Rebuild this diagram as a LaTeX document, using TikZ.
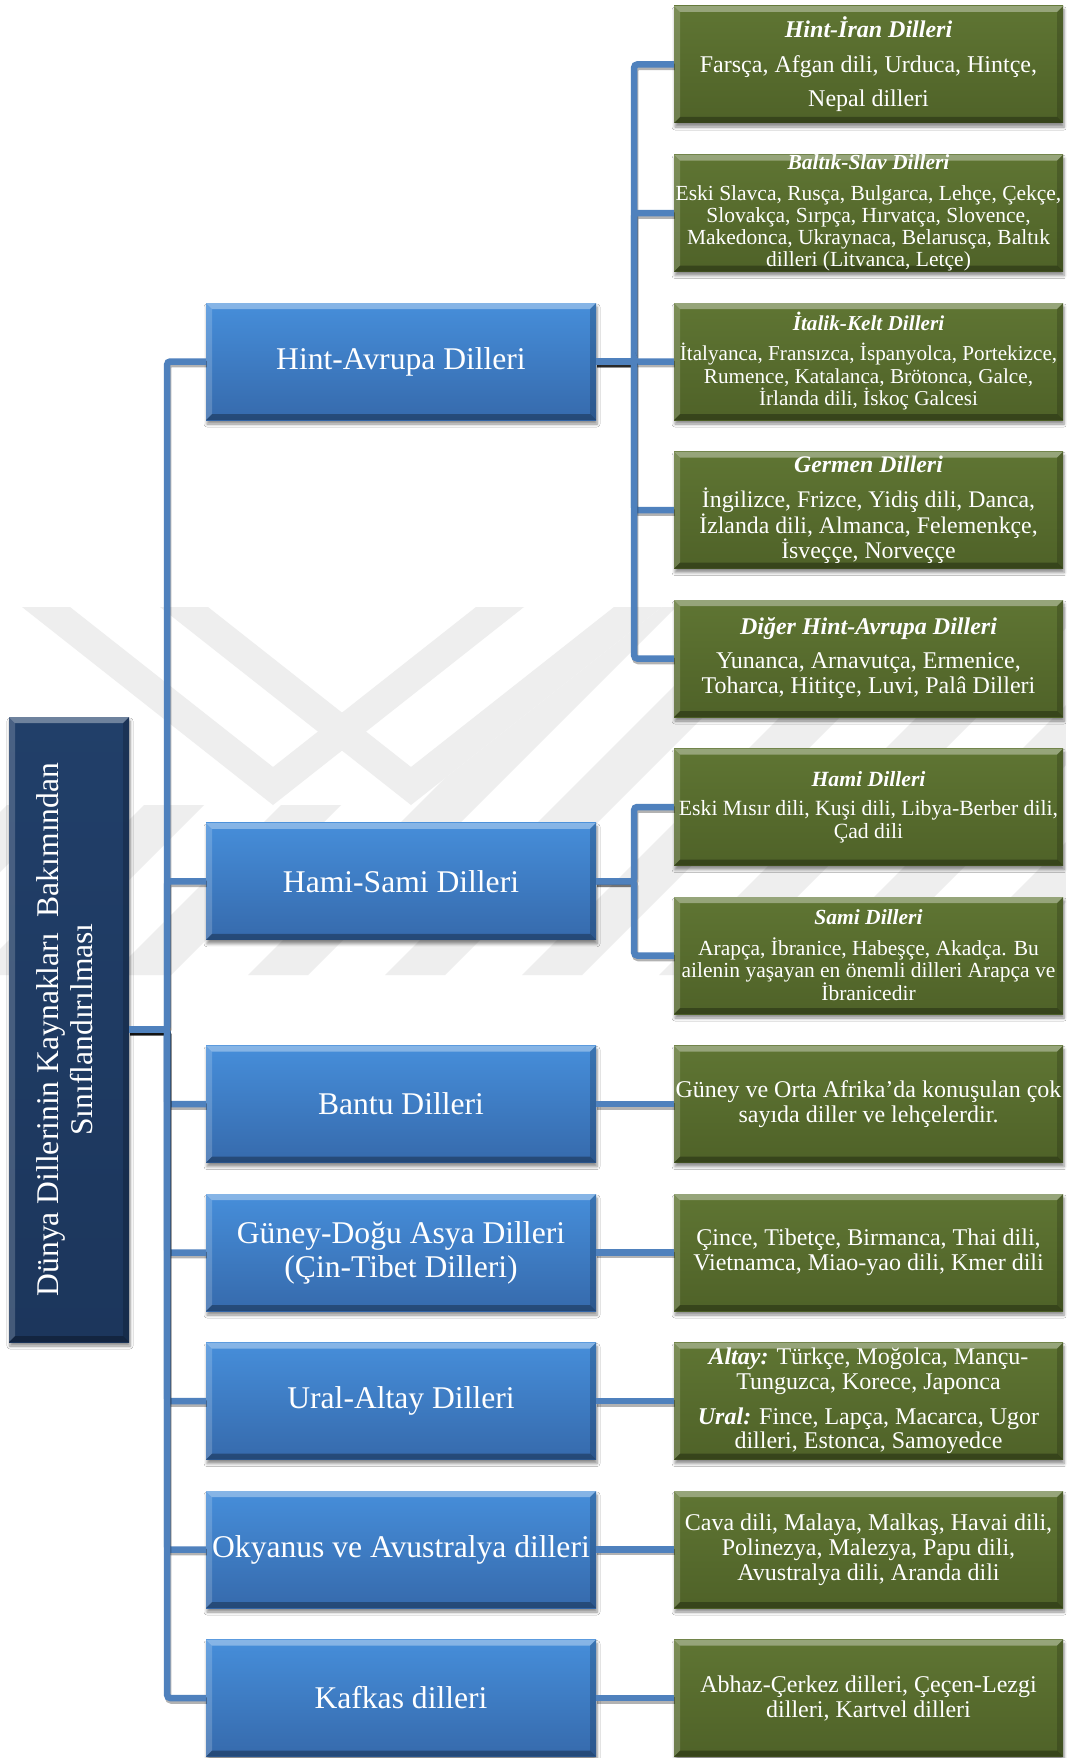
\documentclass[tikz,border=0pt]{standalone}
\usepackage{fontspec}
\setmainfont{Liberation Serif}
\usetikzlibrary{shadows.blur,calc}

\definecolor{connC}{RGB}{79,129,189}
\definecolor{blueT}{RGB}{70,142,218}
\definecolor{blueB}{RGB}{54,106,172}
\definecolor{greenT}{RGB}{95,117,51}
\definecolor{greenB}{RGB}{79,98,40}
\definecolor{navyT}{RGB}{33,63,105}
\definecolor{navyB}{RGB}{28,54,92}
\definecolor{wmC}{RGB}{238,238,238}

\newcommand\hdg[1]{\textbf{\textit{#1}}}

\tikzset{
  bevel/.style={path picture={
    \coordinate (bnw) at (path picture bounding box.north west);
    \coordinate (bne) at (path picture bounding box.north east);
    \coordinate (bsw) at (path picture bounding box.south west);
    \coordinate (bse) at (path picture bounding box.south east);
    \fill[white,opacity=.35] (bnw) -- (bne) -- ([xshift=-6pt,yshift=-6pt]bne) -- ([xshift=6pt,yshift=-6pt]bnw) -- cycle;
    \fill[white,opacity=.18] (bnw) -- ([xshift=6pt,yshift=-6pt]bnw) -- ([xshift=6pt,yshift=6pt]bsw) -- (bsw) -- cycle;
    \fill[black,opacity=.30] (bsw) -- ([xshift=6pt,yshift=6pt]bsw) -- ([xshift=-6pt,yshift=6pt]bse) -- (bse) -- cycle;
    \fill[black,opacity=.18] (bne) -- ([xshift=-6pt,yshift=-6pt]bne) -- ([xshift=-6pt,yshift=6pt]bse) -- (bse) -- cycle;
  }},
  boxbase/.style={inner sep=0pt, align=center, text=white, bevel,
    blur shadow={shadow xshift=1pt, shadow yshift=-4pt, shadow blur radius=3pt, shadow blur steps=5, shadow opacity=45}},
  bluebox/.style={boxbase, minimum width=390pt, minimum height=117pt,
    top color=blueT, bottom color=blueB, font=\fontsize{31.6}{34}\selectfont},
  greenbox/.style={boxbase, minimum width=389pt, minimum height=117pt,
    top color=greenT, bottom color=greenB},
  rootbox/.style={boxbase, minimum width=120pt, minimum height=625pt,
    top color=navyT, bottom color=navyB, font=\fontsize{31.6}{34}\selectfont},
  conn/.style={draw=connC, line width=6.5pt, rounded corners=3pt,
    preaction={draw=black, opacity=0.3, line width=6.5pt, transform canvas={xshift=1pt,yshift=-2.5pt}}},
}

\begin{document}
\begin{tikzpicture}[x=1pt,y=-1pt]
\useasboundingbox (0,0) rectangle (1066,1758);
\fill[white] (0,0) rectangle (1066,1758);

% watermark
\begin{scope}
  \clip (0,975) -- (1066,975) -- (1066,607) -- (662,607) -- (411,805) -- (0,805) -- cycle;
  \foreach \x in {-300,-163,...,1066}
    \fill[wmC] (\x,975) -- ++(60,0) -- ++(368,-368) -- ++(-60,0) -- cycle;
\end{scope}
\fill[wmC] (22,607) -- (70,607) -- (273,767) -- (476,607) -- (524,607) -- (273,805) -- cycle;
\fill[wmC] (160,607) -- (208,607) -- (411,767) -- (614,607) -- (662,607) -- (411,805) -- cycle;

% root
\node[rootbox] (root) at (69,1029.5) {\rotatebox{90}{\begin{tabular}{@{}c@{}}Dünya Dillerinin Kaynakları~~Bakımından\\Sınıflandırılması\end{tabular}}};

% level 1
\node[bluebox] (ha) at (401,361.5) {Hint-Avrupa Dilleri};
\node[bluebox] (hs) at (401,881.25) {Hami-Sami Dilleri};
\node[bluebox] (ba) at (401,1104) {Bantu Dilleri};
\node[bluebox] (gd) at (401,1252.5) {Güney-Doğu Asya Dilleri\\(Çin-Tibet Dilleri)};
\node[bluebox] (ua) at (401,1401) {Ural-Altay Dilleri};
\node[bluebox] (oa) at (401,1549.5) {Okyanus ve Avustralya dilleri};
\node[bluebox] (kf) at (401,1698) {Kafkas dilleri};

% level 2
\node[greenbox, font=\fontsize{24}{34.5}\selectfont] (g0) at (868.5,64.5)
  {\hdg{Hint-İran Dilleri}\\Farsça, Afgan dili, Urduca, Hintçe,\\Nepal dilleri};
\node[greenbox, font=\fontsize{21.5}{22}\selectfont] (g1) at (868.5,213)
  {\hdg{Baltık-Slav Dilleri}\\[9pt]Eski Slavca, Rusça, Bulgarca, Lehçe, Çekçe,\\Slovakça, Sırpça, Hırvatça, Slovence,\\Makedonca, Ukraynaca, Belarusça, Baltık\\dilleri (Litvanca, Letçe)};
\node[greenbox, font=\fontsize{21.2}{22.5}\selectfont] (g2) at (868.5,361.5)
  {\hdg{İtalik-Kelt Dilleri}\\[7.5pt]İtalyanca, Fransızca, İspanyolca, Portekizce,\\Rumence, Katalanca, Brötonca, Galce,\\İrlanda dili, İskoç Galcesi};
\node[greenbox, font=\fontsize{23.8}{24.5}\selectfont] (g3) at (868.5,510)
  {\hdg{Germen Dilleri}\\[10.5pt]İngilizce, Frizce, Yidiş dili, Danca,\\İzlanda dili, Almanca, Felemenkçe,\\İsveççe, Norveççe};
\node[greenbox, font=\fontsize{24}{25}\selectfont] (g4) at (868.5,658.5)
  {\hdg{Diğer Hint-Avrupa Dilleri}\\[9pt]Yunanca, Arnavutça, Ermenice,\\Toharca, Hititçe, Luvi, Palâ Dilleri};
\node[greenbox, font=\fontsize{21.7}{23}\selectfont] (g5) at (868.5,807)
  {\hdg{Hami Dilleri}\\[6pt]Eski Mısır dili, Kuşi dili, Libya-Berber dili,\\Çad dili};
\node[greenbox, font=\fontsize{21.5}{21.5}\selectfont] (g6) at (868.5,955.5)
  {\hdg{Sami Dilleri}\\[9.5pt]Arapça, İbranice, Habeşçe, Akadça. Bu\\ailenin yaşayan en önemli dilleri Arapça ve\\İbranicedir};
\node[greenbox, font=\fontsize{24}{25}\selectfont] (g7) at (868.5,1104)
  {Güney ve Orta Afrika’da konuşulan çok\\sayıda diller ve lehçelerdir.};
\node[greenbox, font=\fontsize{24}{25}\selectfont] (g8) at (868.5,1252.5)
  {Çince, Tibetçe, Birmanca, Thai dili,\\Vietnamca, Miao-yao dili, Kmer dili};
\node[greenbox, font=\fontsize{24}{24.5}\selectfont] (g9) at (868.5,1401)
  {\hdg{Altay:} Türkçe, Moğolca, Mançu-\\Tunguzca, Korece, Japonca\\[10.5pt]\hdg{Ural:} Fince, Lapça, Macarca, Ugor\\dilleri, Estonca, Samoyedce};
\node[greenbox, font=\fontsize{24}{25}\selectfont] (g10) at (868.5,1549.5)
  {Cava dili, Malaya, Malkaş, Havai dili,\\Polinezya, Malezya, Papu dili,\\Avustralya dili, Aranda dili};
\node[greenbox, font=\fontsize{24}{25}\selectfont] (g11) at (868.5,1698)
  {Abhaz-Çerkez dilleri, Çeçen-Lezgi\\dilleri, Kartvel dilleri};

% connectors
\foreach \b in {ha,hs,ba,gd,ua,oa,kf}
  \draw[conn] (root.east) -- ++(38,0) |- (\b.west);
\foreach \g in {g0,g1,g2,g3,g4}
  \draw[conn] (ha.east) -- ++(38,0) |- (\g.west);
\foreach \g in {g5,g6}
  \draw[conn] (hs.east) -- ++(38,0) |- (\g.west);
\draw[conn] (ba.east) -- (g7.west);
\draw[conn] (gd.east) -- (g8.west);
\draw[conn] (ua.east) -- (g9.west);
\draw[conn] (oa.east) -- (g10.west);
\draw[conn] (kf.east) -- (g11.west);
\end{tikzpicture}
\end{document}
